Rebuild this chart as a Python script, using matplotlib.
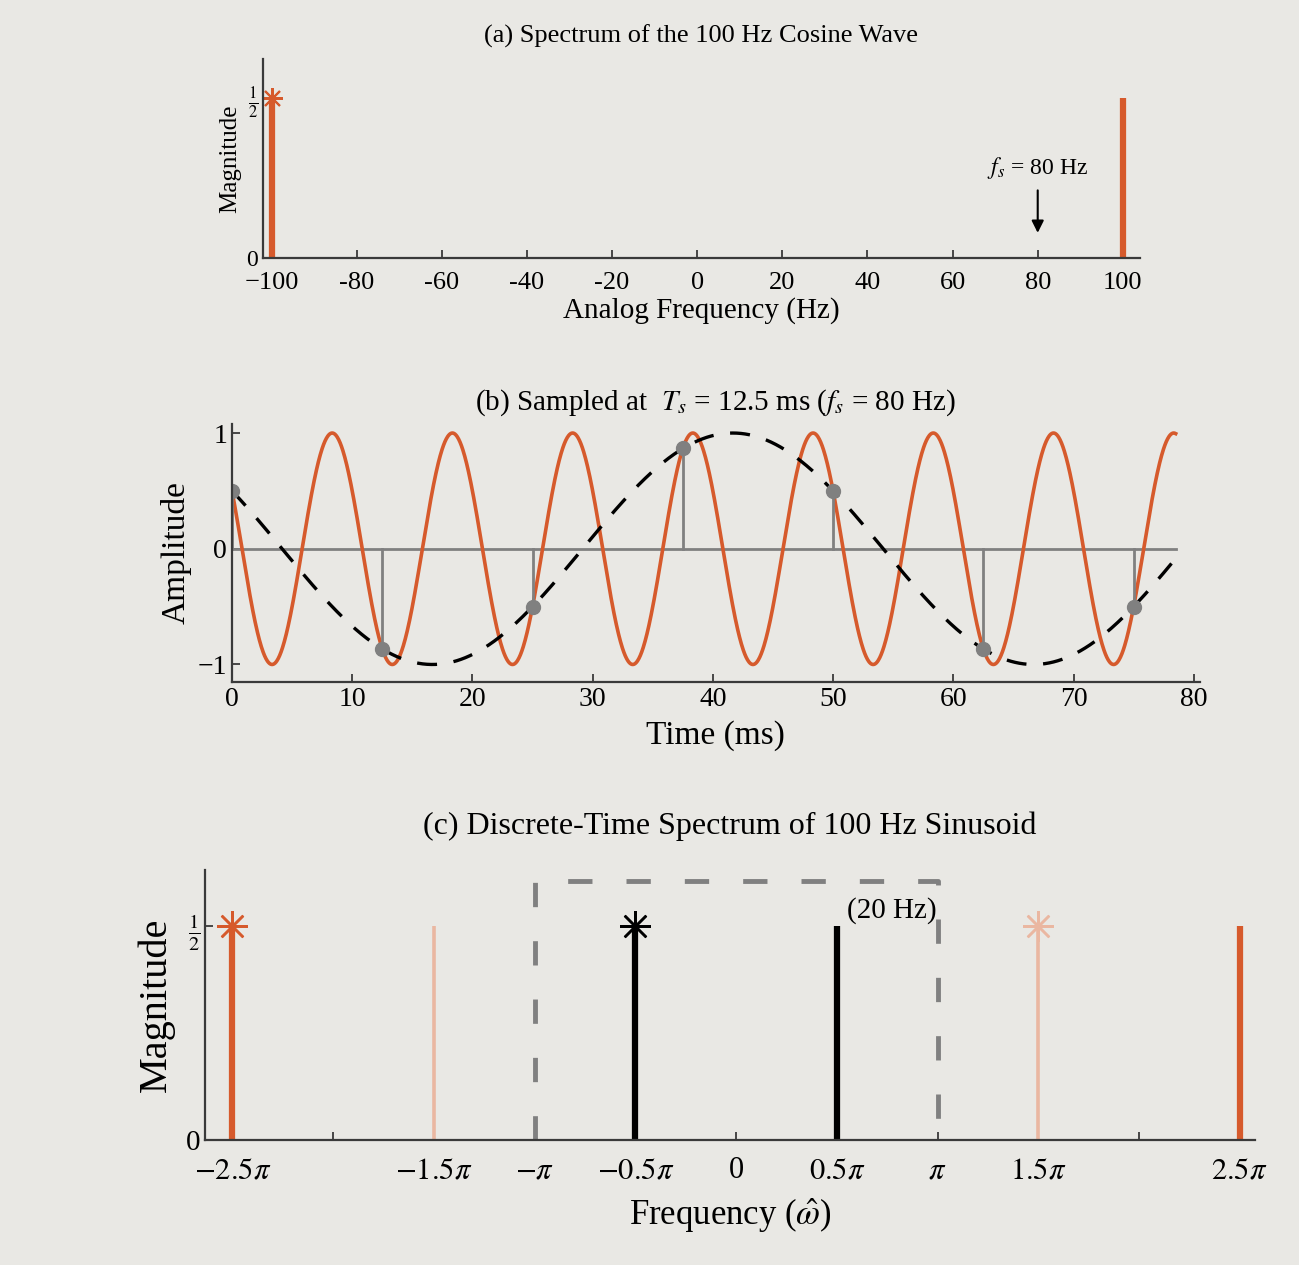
import numpy as np
import matplotlib.pyplot as plt

plt.rcParams['font.family'] = ['Liberation Serif', 'DejaVu Serif']
plt.rcParams['mathtext.fontset'] = 'stix'

# (a) analog spectrum
analog_freq = [-100, 100]
analog_mag = [0.5, 0.5]
analog_ticks = [-100, -80, -60, -40, -20, 0, 20, 40, 60, 80, 100]
fs_hz = 80

# (b) sampled signal
signal_hz = 100
alias_hz = 20
phase = np.pi / 3
t_end_ms = 78.5
t_samples = [0, 12.5, 25, 37.5, 50, 62.5, 75]
x_samples = [0.5, -0.87, -0.5, 0.87, 0.5, -0.87, -0.5]

# (c) discrete-time spectrum (in units of pi)
w_lines = [-2.5, -1.5, -0.5, 0.5, 1.5, 2.5]
w_mag = [0.5, 0.5, 0.5, 0.5, 0.5, 0.5]
w_kind = ['orig', 'faint', 'alias', 'alias', 'faint', 'orig']
w_star = [True, False, True, False, True, False]
w_ticks = [-2.5, -2, -1.5, -1, -0.5, 0, 0.5, 1, 1.5, 2, 2.5]
w_labels = [r'$-2.5\pi$', '', r'$-1.5\pi$', r'$-\pi$', r'$-0.5\pi$', '0',
            r'$0.5\pi$', r'$\pi$', r'$1.5\pi$', '', r'$2.5\pi$']

bg = '#e9e8e4'
orange = '#d65a2c'
faint = '#eab7a1'
gray = '#808080'
axc = '#3a3a3a'
asterisk = (8, 2, 0)

fig = plt.figure(figsize=(12.99, 12.65), dpi=100, facecolor=bg)

def style(ax):
    ax.set_facecolor(bg)
    for s in ['top', 'right']:
        ax.spines[s].set_visible(False)
    for s in ['left', 'bottom']:
        ax.spines[s].set_color(axc)
        ax.spines[s].set_linewidth(1.6)
    ax.tick_params(direction='in', length=6, width=1.3, color=axc)

# ---- (a)
ax1 = fig.add_axes([0.2025, 0.796, 0.675, 0.157])
style(ax1)
for f, m in zip(analog_freq, analog_mag):
    ax1.plot([f, f], [0, m], color=orange, lw=4.5, solid_capstyle='butt')
ax1.plot(analog_freq[0], analog_mag[0], marker=asterisk, color=orange, ms=15, mew=1.5)
ax1.set_xlim(-102, 104)
ax1.set_ylim(0, 0.62)
ax1.set_xticks(analog_ticks)
ax1.set_xticklabels([str(v).replace('-', '\u2212') if v == -100 else str(v) for v in analog_ticks],
                    fontsize=19)
ax1.tick_params(axis='x', pad=10)
ax1.set_yticks([0, 0.5])
ax1.set_yticklabels(['0', r'$\frac{1}{2}$'], fontsize=17)
ax1.set_xlabel('Analog Frequency (Hz)', fontsize=21, labelpad=2)
ax1.set_ylabel('Magnitude', fontsize=18, labelpad=4)
ax1.set_title('(a) Spectrum of the 100 Hz Cosine Wave', fontsize=19, pad=12)
ax1.annotate('', xy=(fs_hz, 0.07), xytext=(fs_hz, 0.22),
             arrowprops=dict(arrowstyle='-|>', color='black', lw=1.5, mutation_scale=18))
ax1.text(fs_hz, 0.28, r'$f_s$ = 80 Hz', ha='center', va='center', fontsize=17)

# ---- (b)
ax2 = fig.add_axes([0.1786, 0.461, 0.745, 0.204])
style(ax2)
t = np.linspace(0, t_end_ms, 2000)
ax2.plot([0, t_end_ms], [0, 0], color=gray, lw=2)
ax2.plot(t, np.cos(2 * np.pi * signal_hz * t / 1000 + phase), color=orange, lw=2.6)
ax2.plot(t, np.cos(2 * np.pi * alias_hz * t / 1000 + phase), color='black', lw=2.4,
         dashes=(6, 5))
for ts, xs in zip(t_samples, x_samples):
    ax2.plot([ts, ts], [0, xs], color=gray, lw=2)
ax2.plot(t_samples, x_samples, 'o', color=gray, ms=10)
ax2.set_xlim(0, 80.5)
ax2.set_ylim(-1.15, 1.08)
ax2.set_xticks(range(0, 81, 10))
ax2.set_yticks([-1, 0, 1])
ax2.set_yticklabels(['\u22121', '0', '1'])
ax2.tick_params(labelsize=20)
ax2.set_xlabel('Time (ms)', fontsize=24, labelpad=6)
ax2.set_ylabel('Amplitude', fontsize=24, labelpad=4)
ax2.set_title(r'(b) Sampled at  $T_s$ = 12.5 ms ($f_s$ = 80 Hz)', fontsize=21, pad=10)

# ---- (c)
ax3 = fig.add_axes([0.158, 0.099, 0.808, 0.213])
style(ax3)
kind_style = {'orig': (orange, 4.5), 'faint': (faint, 2.6), 'alias': ('black', 4.5)}
for w, m, k, st in zip(w_lines, w_mag, w_kind, w_star):
    c, lw = kind_style[k]
    ax3.plot([w * np.pi, w * np.pi], [0, m], color=c, lw=lw, solid_capstyle='butt')
    if st:
        ax3.plot(w * np.pi, m, marker=asterisk, color=c, ms=22, mew=1.8)
box_top = 0.605
ax3.plot([-np.pi, -np.pi, np.pi, np.pi], [0, box_top, box_top, 0], color=gray, lw=3.5,
         dashes=(5, 7))
ax3.text(0.55 * np.pi, 0.535, '(20 Hz)', ha='left', va='center', fontsize=21)
ax3.set_xlim(-2.635 * np.pi, 2.575 * np.pi)
ax3.set_ylim(0, 0.63)
ax3.set_xticks([v * np.pi for v in w_ticks])
ax3.set_xticklabels(w_labels, fontsize=22)
ax3.tick_params(axis='x', pad=12)
ax3.set_yticks([0, 0.5])
ax3.set_yticklabels(['0', r'$\frac{1}{2}$'], fontsize=21)
ax3.set_xlabel(r'Frequency ($\hat{\omega}$)', fontsize=25, labelpad=8)
ax3.set_ylabel('Magnitude', fontsize=29, labelpad=8)
ax3.set_title('(c) Discrete-Time Spectrum of 100 Hz Sinusoid', fontsize=23, pad=26)

fig.savefig('out.png', dpi=100, facecolor=bg)
